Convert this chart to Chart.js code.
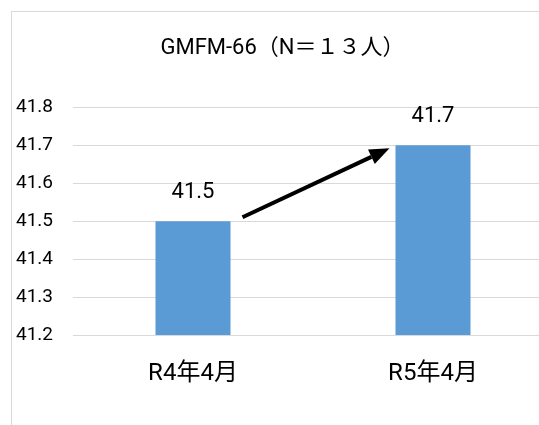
<!DOCTYPE html>
<html lang="ja">
<head>
    <meta charset="UTF-8">
    <title>GMFM-66</title>
    <script src="https://cdn.jsdelivr.net/npm/chart.js"></script>
</head>
<style>
    body {
        margin: 0;
        overflow: hidden;
        background: #fff;
    }
    .ramka {
        position: absolute;
        left: 11px;
        top: 11px;
        width: 560px;
        height: 440px;
        border: 1px solid #d9d9d9;
    }
</style>
<body>
    <div class="ramka">
        <canvas id="grafik" width="541" height="430"></canvas>
    </div>
<script>
    let kategorii = ["R4年4月", "R5年4月"];
    let znacheniya = [41.5, 41.7];
    let zagolovok = "GMFM-66（N＝１３人）";

    let shrift = "Roboto, 'Noto Sans CJK JP', sans-serif";

    // podpisi nad stolbcami i strelka
    let podpisi = {
        id: 'podpisi',
        afterDatasetsDraw: function(chart) {
            let ctx = chart.ctx;
            let meta = chart.getDatasetMeta(0);
            let y = chart.scales.y;
            ctx.save();
            ctx.fillStyle = '#000';
            ctx.font = '22px ' + shrift;
            ctx.textAlign = 'center';
            ctx.textBaseline = 'middle';
            meta.data.forEach(function(bar, i) {
                ctx.fillText(znacheniya[i].toFixed(1), bar.x, bar.y - 29);
            });

            let b1 = meta.data[0], b2 = meta.data[1];
            let x1 = b1.x + b1.width / 2 + 12;
            let y1 = y.getPixelForValue(znacheniya[0]) - 4;
            let x2 = b2.x - b2.width / 2 - 6;
            let y2 = y.getPixelForValue(znacheniya[1]) + 3;
            let ugol = Math.atan2(y2 - y1, x2 - x1);
            let dl = 20, sh = 8;
            let bx = x2 - dl * Math.cos(ugol);
            let by = y2 - dl * Math.sin(ugol);
            ctx.strokeStyle = '#000';
            ctx.lineWidth = 4;
            ctx.beginPath();
            ctx.moveTo(x1, y1);
            ctx.lineTo(bx, by);
            ctx.stroke();
            ctx.beginPath();
            ctx.moveTo(x2, y2);
            ctx.lineTo(bx + sh * Math.sin(ugol), by - sh * Math.cos(ugol));
            ctx.lineTo(bx - sh * Math.sin(ugol), by + sh * Math.cos(ugol));
            ctx.closePath();
            ctx.fill();
            ctx.restore();
        }
    };

    new Chart(document.getElementById("grafik"), {
        type: 'bar',
        data: {
            labels: kategorii,
            datasets: [{
                data: znacheniya,
                backgroundColor: '#5b9bd5',
                barPercentage: 0.3125,
                categoryPercentage: 1
            }]
        },
        options: {
            responsive: false,
            animation: false,
            layout: {
                padding: { left: 0, right: 0, top: 0, bottom: 40 }
            },
            plugins: {
                legend: { display: false },
                tooltip: { enabled: false },
                title: {
                    display: true,
                    text: zagolovok,
                    color: '#000',
                    font: { family: shrift, size: 22, weight: 'normal' },
                    padding: { top: 23, bottom: 46 }
                }
            },
            scales: {
                x: {
                    grid: { display: false },
                    border: { color: '#d9d9d9', width: 1 },
                    ticks: {
                        color: '#000',
                        padding: 17,
                        font: { family: shrift, size: 24 }
                    },
                    afterFit: function(scale) { scale.height = 67; }
                },
                y: {
                    min: 41.2,
                    max: 41.8,
                    border: { display: false },
                    grid: { color: '#d9d9d9', drawTicks: false },
                    ticks: {
                        stepSize: 0.1,
                        color: '#000',
                        padding: 20,
                        font: { family: shrift, size: 19 },
                        callback: function(v) { return v.toFixed(1); }
                    },
                    afterFit: function(scale) { scale.width = 61; }
                }
            }
        },
        plugins: [podpisi]
    });
</script>
</body>
</html>
